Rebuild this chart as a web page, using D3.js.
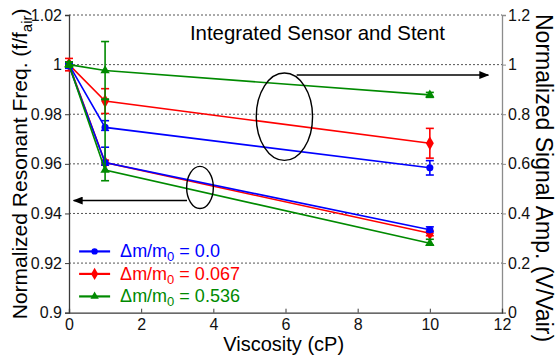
<!DOCTYPE html>
<html>
<head>
<meta charset="utf-8">
<script src="https://cdn.jsdelivr.net/npm/d3@7"></script>
<style>
  body { margin: 0; background: #fff; }
  text { font-family: "Liberation Sans", Arial, sans-serif; }
</style>
</head>
<body>
<svg id="chart"></svg>
<script>
const viscosity = [0, 1, 10];
const seriesLabels = ["0.0", "0.067", "0.536"];
const xTicks = [0, 2, 4, 6, 8, 10, 12];
const freqTicks = [0.9, 0.92, 0.94, 0.96, 0.98, 1, 1.02];
const ampTicks = [0, 0.2, 0.4, 0.6, 0.8, 1, 1.2];

// normalized resonant frequency, left axis
const freq0 = [0.9995, 0.9605, 0.9334];
const freq1 = [1.0, 0.9605, 0.932];
const freq2 = [1.0, 0.9575, 0.928];
// error bars as [below, above]
const freq0Err = [[0.001, 0.001], [0.001, 0.0062], [0.0008, 0.0012]];
const freq1Err = [[0.001, 0.001], [0.001, 0.001], [0.001, 0.001]];
const freq2Err = [[0.001, 0.001], [0.0043, 0.0286], [0.0007, 0.0016]];

// normalized signal amplitude, right axis
const amp0 = [1.0, 0.747, 0.584];
const amp1 = [1.0, 0.853, 0.683];
const amp2 = [1.0, 0.976, 0.878];
const amp0Err = [[0.01, 0.01], [0.012, 0.027], [0.029, 0.029]];
const amp1Err = [[0.025, 0.025], [0.05, 0.05], [0.06, 0.06]];
const amp2Err = [[0.01, 0.01], [0.117, 0.117], [0.01, 0.01]];

const W = 556, H = 356;
const margin = { top: 15, right: 54, bottom: 43.3, left: 69 };
const width = W - margin.left - margin.right;
const height = H - margin.top - margin.bottom;

const colors = ["#0000ff", "#ff0000", "#008a00"];
const symbols = [d3.symbolCircle, d3.symbolDiamond, d3.symbolTriangle];
const symSizes = [40, 55, 38];

const series = [
  { i: 0, freq: freq0, freqErr: freq0Err, amp: amp0, ampErr: amp0Err },
  { i: 1, freq: freq1, freqErr: freq1Err, amp: amp1, ampErr: amp1Err },
  { i: 2, freq: freq2, freqErr: freq2Err, amp: amp2, ampErr: amp2Err }
];

const svg = d3.select("#chart").attr("width", W).attr("height", H);
const g = svg.append("g").attr("transform", `translate(${margin.left},${margin.top})`);

const x = d3.scaleLinear().domain([0, 12]).range([0, width]);
const yF = d3.scaleLinear().domain([0.9, 1.02]).range([height, 0]);
const yA = d3.scaleLinear().domain([0, 1.2]).range([height, 0]);

// grid
g.append("g").selectAll("line").data(freqTicks.slice(1)).join("line")
  .attr("x1", 0).attr("x2", width)
  .attr("y1", d => yF(d)).attr("y2", d => yF(d))
  .attr("stroke", "#555").attr("stroke-width", 1).attr("stroke-dasharray", "2,2");

// axes
const fmt = d => d3.format("")(+d.toFixed(2));
const left = g.append("g")
  .call(d3.axisLeft(yF).tickValues(freqTicks).tickFormat(fmt).tickSize(4).tickPadding(3));
const right = g.append("g").attr("transform", `translate(${width},0)`)
  .call(d3.axisRight(yA).tickValues(ampTicks).tickFormat(fmt).tickSize(4).tickPadding(2));
const bottom = g.append("g").attr("transform", `translate(0,${height})`)
  .call(d3.axisBottom(x).tickValues(xTicks).tickSize(-4).tickPadding(6));

[left, bottom].forEach(a => {
  a.select(".domain").attr("stroke", "#3a3a3a").attr("stroke-width", 1.3);
  a.selectAll(".tick line").attr("stroke", "#3a3a3a");
});
right.select(".domain").attr("stroke", "#8c8c8c").attr("stroke-width", 1.3);
right.selectAll(".tick line").attr("stroke", "#8c8c8c");
[left, right, bottom].forEach(a => a.selectAll(".tick text")
  .attr("font-size", 16).attr("fill", "#111").style("font-family", '"Liberation Sans", Arial, sans-serif'));

// series
const drawOrder = [1, 0, 2];
drawOrder.forEach(k => {
  const s = series[k];
  const c = colors[k];
  [[s.freq, s.freqErr, yF], [s.amp, s.ampErr, yA]].forEach(([vals, errs, y]) => {
    const pts = viscosity.map((v, j) => ({ x: v, y: vals[j], lo: errs[j][0], hi: errs[j][1] }));
    g.append("path").datum(pts)
      .attr("d", d3.line().x(d => x(d.x)).y(d => y(d.y)))
      .attr("fill", "none").attr("stroke", c).attr("stroke-width", 1.6);
    const eb = g.append("g").attr("stroke", c).attr("stroke-width", 1.6);
    pts.forEach(d => {
      const px = x(d.x), t = y(d.y + d.hi), b = y(d.y - d.lo);
      eb.append("line").attr("x1", px).attr("x2", px).attr("y1", t).attr("y2", b);
      eb.append("line").attr("x1", px - 4).attr("x2", px + 4).attr("y1", t).attr("y2", t);
      eb.append("line").attr("x1", px - 4).attr("x2", px + 4).attr("y1", b).attr("y2", b);
    });
    g.append("g").selectAll("path").data(pts).join("path")
      .attr("transform", d => `translate(${x(d.x)},${y(d.y)})`)
      .attr("d", d3.symbol().type(symbols[k]).size(symSizes[k]))
      .attr("fill", c);
  });
});

// annotations
const defs = svg.append("defs");
defs.append("marker").attr("id", "arr").attr("viewBox", "0 0 10 8")
  .attr("refX", 9).attr("refY", 4).attr("markerWidth", 10).attr("markerHeight", 8)
  .attr("markerUnits", "userSpaceOnUse").attr("orient", "auto")
  .append("path").attr("d", "M0,0L10,4L0,8Z").attr("fill", "#000");

g.append("ellipse")
  .attr("cx", x(5.97)).attr("cy", yA(0.79))
  .attr("rx", x(0.78)).attr("ry", yA(1.2 - 0.176))
  .attr("fill", "none").attr("stroke", "#000").attr("stroke-width", 1.4);
g.append("line")
  .attr("x1", x(6.31)).attr("x2", x(11.62)).attr("y1", yA(0.958)).attr("y2", yA(0.958))
  .attr("stroke", "#000").attr("stroke-width", 1.4).attr("marker-end", "url(#arr)");

g.append("ellipse")
  .attr("cx", x(3.63)).attr("cy", yF(0.9505))
  .attr("rx", x(0.37)).attr("ry", yF(1.02 - 0.0085))
  .attr("fill", "none").attr("stroke", "#000").attr("stroke-width", 1.4);
g.append("line")
  .attr("x1", x(3.27)).attr("x2", x(0.13)).attr("y1", yF(0.9452)).attr("y2", yF(0.9452))
  .attr("stroke", "#000").attr("stroke-width", 1.4).attr("marker-end", "url(#arr)");

g.append("text").attr("x", x(3.35)).attr("y", 24.5)
  .attr("font-size", 20.4).attr("fill", "#000").text("Integrated Sensor and Stent");

// legend
const leg = g.append("g").attr("transform", `translate(${x(0.28)},${yF(0.9247)})`);
[0, 1, 2].forEach(k => {
  const row = leg.append("g").attr("transform", `translate(0,${k * 22.5})`);
  row.append("line").attr("x1", 0).attr("x2", 31).attr("stroke", colors[k]).attr("stroke-width", 2.2);
  row.append("path").attr("transform", "translate(15.5,0)")
    .attr("d", d3.symbol().type(symbols[k]).size(symSizes[k] * 0.8)).attr("fill", colors[k]);
  const t = row.append("text").attr("x", 41).attr("y", 6).attr("font-size", 18).attr("fill", colors[k]);
  t.append("tspan").text("\u0394m/m");
  t.append("tspan").attr("font-size", 13).attr("dy", 4).text("0");
  t.append("tspan").attr("dy", -4).text(" = " + seriesLabels[k]);
});

// axis titles
const yl = svg.append("text")
  .attr("transform", `translate(27,${margin.top + height / 2}) rotate(-90)`)
  .attr("text-anchor", "middle").attr("font-size", 21).attr("fill", "#000");
yl.append("tspan").text("Normalized Resonant Freq. (f/f");
yl.append("tspan").attr("font-size", 15).attr("dy", 5).text("air");
yl.append("tspan").attr("dy", -5).text(")");

svg.append("text")
  .attr("transform", `translate(536,14) rotate(90)`)
  .attr("font-size", 23).attr("fill", "#000")
  .text("Normalized Signal Amp. (V/Vair)");

svg.append("text")
  .attr("x", margin.left + x(5.95)).attr("y", 351)
  .attr("text-anchor", "middle").attr("font-size", 20).attr("fill", "#000")
  .text("Viscosity (cP)");
</script>
</body>
</html>
